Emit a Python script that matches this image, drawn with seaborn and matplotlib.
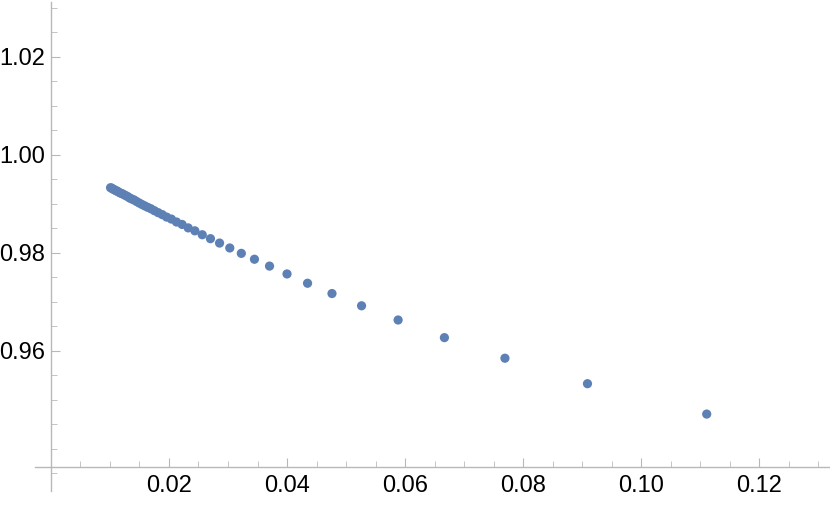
import numpy as np
import pandas as pd
import matplotlib
matplotlib.use("Agg")
import matplotlib.pyplot as plt
import seaborn as sns
from matplotlib.ticker import FixedLocator

x_values = [0.11111, 0.090909, 0.076923, 0.066667, 0.058824, 0.052632, 0.047619,
            0.043478, 0.04, 0.037037, 0.034483, 0.032258, 0.030303, 0.028571,
            0.027027, 0.025641, 0.02439, 0.023256, 0.022222, 0.021277, 0.020408,
            0.019608, 0.018868, 0.018182, 0.017544, 0.016949, 0.016393, 0.015873,
            0.015385, 0.014925, 0.014493, 0.014085, 0.013699, 0.013333, 0.012987,
            0.012658, 0.012346, 0.012048, 0.011765, 0.011494, 0.011236, 0.010989,
            0.010753, 0.010526, 0.010309, 0.010101]
y_values = [0.9471, 0.9533, 0.9585, 0.9627, 0.9663, 0.9692, 0.9717,
            0.9738, 0.9757, 0.9773, 0.9787, 0.9799, 0.9810, 0.9820,
            0.9829, 0.9837, 0.9845, 0.9851, 0.9858, 0.9863, 0.9869,
            0.9873, 0.9878, 0.9882, 0.9886, 0.9890, 0.9893, 0.9896,
            0.9899, 0.9902, 0.9905, 0.9908, 0.9910, 0.9912, 0.9915,
            0.9917, 0.9919, 0.9921, 0.9922, 0.9924, 0.9926, 0.9927,
            0.9929, 0.9930, 0.9932, 0.9933]

x_tick_values = [0.02, 0.04, 0.06, 0.08, 0.10, 0.12]
x_tick_labels = ["0.02", "0.04", "0.06", "0.08", "0.10", "0.12"]
y_tick_values = [0.96, 0.98, 1.00, 1.02]
y_tick_labels = ["0.96", "0.98", "1.00", "1.02"]

df = pd.DataFrame({"x": x_values, "y": y_values})

sns.set_style("white")
plt.rcParams["font.family"] = ["Liberation Sans", "DejaVu Sans"]

W, H = 830, 505
fig = plt.figure(figsize=(W / 100, H / 100), dpi=100)
ax = fig.add_axes([35 / W, (H - 491) / H, (830 - 35) / W, (491 - 2) / H])

sns.scatterplot(data=df, x="x", y="y", ax=ax, color="#5E81B5",
                s=44, edgecolor="none", linewidth=0, legend=False)

ax.set_xlim(-0.0027, 0.132)
ax.set_ylim(0.9314, 1.0312)

for side in ["top", "right"]:
    ax.spines[side].set_visible(False)
ax.spines["left"].set_position(("data", 0.0))
ax.spines["bottom"].set_position(("data", 0.9363))
for side in ["left", "bottom"]:
    ax.spines[side].set_color("#b8b8b8")
    ax.spines[side].set_linewidth(1.0)

ax.set_xticks(x_tick_values)
ax.set_xticklabels(x_tick_labels)
ax.set_yticks(y_tick_values)
ax.set_yticklabels(y_tick_labels)
ax.xaxis.set_minor_locator(FixedLocator([v for v in np.arange(0.005, 0.1301, 0.005)
                                         if min(abs(v - t) for t in x_tick_values) > 1e-6]))
ax.yaxis.set_minor_locator(FixedLocator([v for v in np.arange(0.935, 1.0301, 0.005)
                                         if min(abs(v - t) for t in y_tick_values) > 1e-6]))

ax.tick_params(axis="both", which="both", bottom=True, left=True, top=False, right=False)
ax.tick_params(axis="both", which="major", direction="in", length=6.5, width=0.8,
               color="#b8b8b8", labelsize=17, labelcolor="black")
ax.tick_params(axis="both", which="minor", direction="in", length=4.2, width=0.7,
               color="#c4c4c4")
ax.tick_params(axis="x", which="major", pad=6)
ax.tick_params(axis="y", which="major", pad=4)

ax.set_xlabel("")
ax.set_ylabel("")
ax.grid(False)

fig.savefig("out.png", dpi=100)
